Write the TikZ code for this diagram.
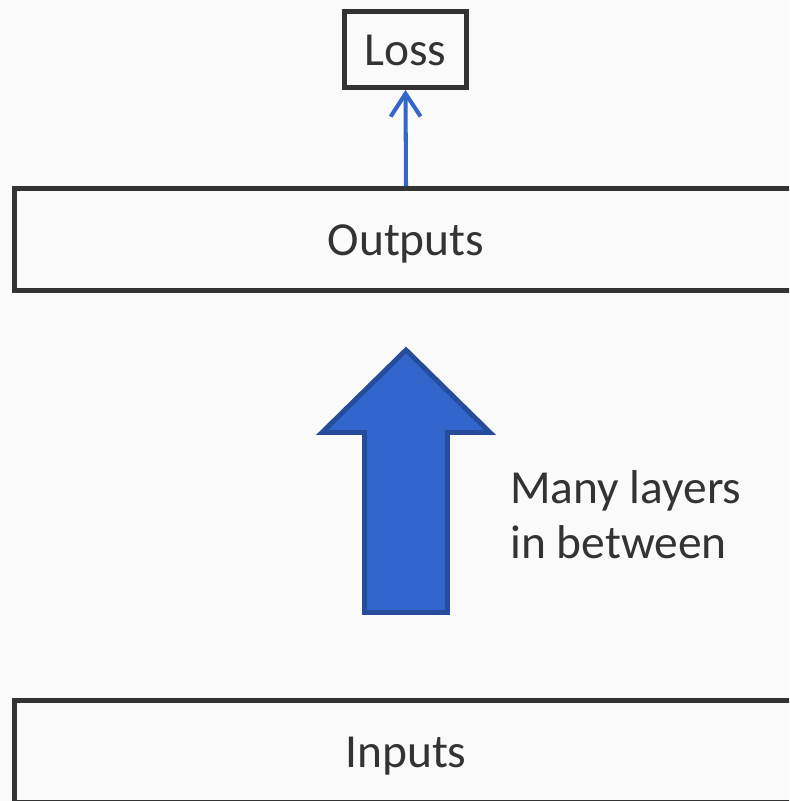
\documentclass[tikz,border=0pt]{standalone}
\usepackage{fontspec}
\setmainfont{Carlito}
\usetikzlibrary{arrows.meta}
\definecolor{pagebg}{HTML}{FAFAFA}
\definecolor{ink}{HTML}{333333}
\definecolor{flowblue}{HTML}{3366CC}
\definecolor{flowedge}{HTML}{264C9C}
\tikzset{%
  box/.style      = {shape=rectangle, draw=ink, line width=2.8pt,%
                     fill=pagebg, text=ink, inner sep=0pt,%
                     text height=18.7pt, text depth=0pt},%
  layer/.style    = {box, minimum width=15.66cm, minimum height=2.04cm},%
  lossbox/.style  = {box, minimum width=2.44cm, minimum height=1.52cm},%
  gradline/.style = {draw=flowblue, line width=2.3pt,%
                     -{Straight Barb[length=13pt, width=17pt]}},%
  bigarrow/.style = {fill=flowblue, draw=flowedge, line width=2.8pt},%
  caption/.style  = {text=ink, align=left, inner sep=0pt}%
}

\begin{document}
\begin{tikzpicture}[x=0.02cm, y=-0.02cm,
  every node/.style = {font=\fontsize{27}{31.2}\selectfont}]%
	\useasboundingbox (0,0) rectangle (789,801);
	\clip (0,0) rectangle (789,801);
	\fill[pagebg] (0,0) rectangle (789,801);
	% the two layers and the loss on top
	\node[lossbox] (loss)    at (405.5,49.5)  {Loss};%
	\node[layer]   (outputs) at (406,239.5)   {Outputs};%
	\node[layer]   (inputs)  at (406,751.5)   {Inputs};%
	\draw[gradline] (outputs.north) -- (loss.south);%
	% block arrow for the hidden layers
	\draw[bigarrow] (364.5,612.5) -- (364.5,432.5) -- (322,432.5)%
		-- (406,350) -- (490,432.5) -- (447.5,432.5)%
		-- (447.5,612.5) -- cycle;%
	\node[caption, anchor=base west] (between) at (510,558)%
		{Many layers\\in between};%
\end{tikzpicture}
\end{document}
